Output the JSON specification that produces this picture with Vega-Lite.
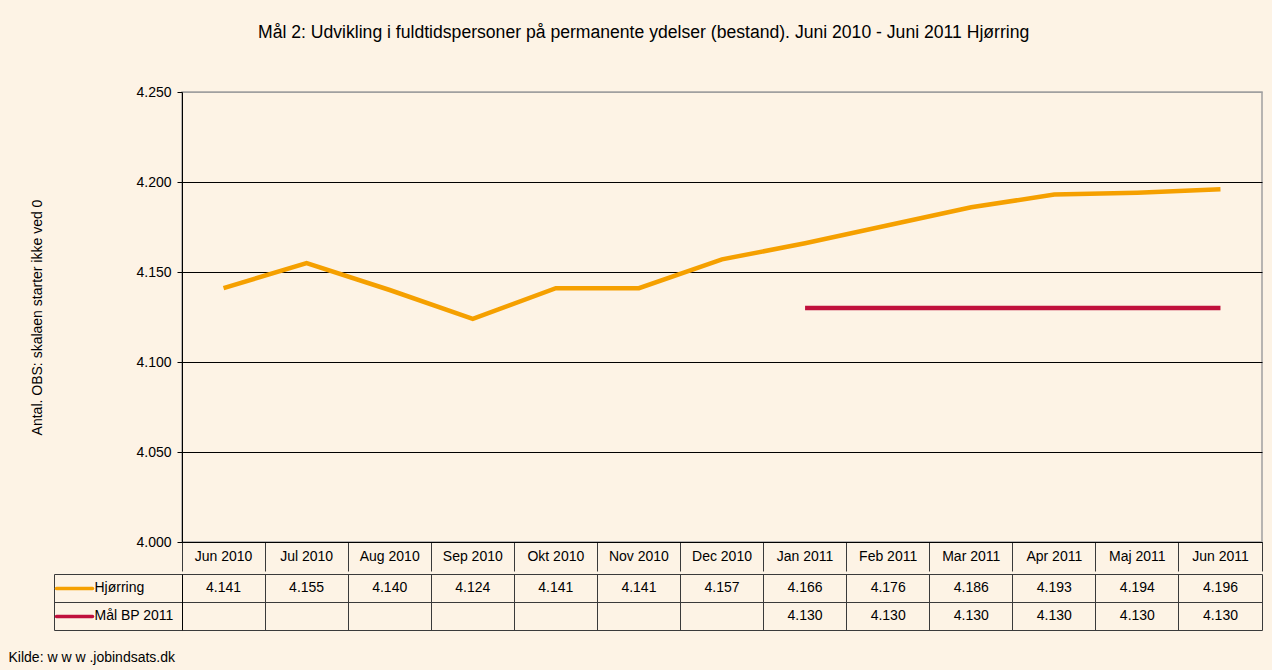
{
  "$schema": "https://vega.github.io/schema/vega-lite/v6.json",
  "background": "#FDF3E5",
  "padding": {"left": 8, "top": 23, "right": 8, "bottom": 6},
  "config": {
    "font": "Liberation Sans",
    "locale": {"number": {"decimal": ",", "thousands": ".", "grouping": [3], "currency": ["", " kr."]}},
    "view": {"stroke": null}
  },
  "title": {
    "text": "Mål 2: Udvikling i fuldtidspersoner på permanente ydelser (bestand). Juni 2010 - Juni 2011 Hjørring",
    "fontSize": 17.6,
    "fontWeight": "normal",
    "color": "#000000",
    "anchor": "middle",
    "dx": 8,
    "offset": 43
  },
  "datasets": {
    "tal": [
      {"maaned": "Jun 2010", "serie": "Hjørring", "antal": 4141},
      {"maaned": "Jul 2010", "serie": "Hjørring", "antal": 4155},
      {"maaned": "Aug 2010", "serie": "Hjørring", "antal": 4140},
      {"maaned": "Sep 2010", "serie": "Hjørring", "antal": 4124},
      {"maaned": "Okt 2010", "serie": "Hjørring", "antal": 4141},
      {"maaned": "Nov 2010", "serie": "Hjørring", "antal": 4141},
      {"maaned": "Dec 2010", "serie": "Hjørring", "antal": 4157},
      {"maaned": "Jan 2011", "serie": "Hjørring", "antal": 4166},
      {"maaned": "Feb 2011", "serie": "Hjørring", "antal": 4176},
      {"maaned": "Mar 2011", "serie": "Hjørring", "antal": 4186},
      {"maaned": "Apr 2011", "serie": "Hjørring", "antal": 4193},
      {"maaned": "Maj 2011", "serie": "Hjørring", "antal": 4194},
      {"maaned": "Jun 2011", "serie": "Hjørring", "antal": 4196},
      {"maaned": "Jan 2011", "serie": "Mål BP 2011", "antal": 4130},
      {"maaned": "Feb 2011", "serie": "Mål BP 2011", "antal": 4130},
      {"maaned": "Mar 2011", "serie": "Mål BP 2011", "antal": 4130},
      {"maaned": "Apr 2011", "serie": "Mål BP 2011", "antal": 4130},
      {"maaned": "Maj 2011", "serie": "Mål BP 2011", "antal": 4130},
      {"maaned": "Jun 2011", "serie": "Mål BP 2011", "antal": 4130}
    ]
  },
  "spacing": 0,
  "vconcat": [
    {
      "width": 1080,
      "height": 450,
      "data": {"name": "tal"},
      "view": {"stroke": "#A0A0A0", "strokeWidth": 1.5},
      "mark": {"type": "line", "strokeWidth": 4.5},
      "encoding": {
        "x": {
          "field": "maaned", "type": "nominal",
          "sort": ["Jun 2010", "Jul 2010", "Aug 2010", "Sep 2010", "Okt 2010", "Nov 2010", "Dec 2010", "Jan 2011", "Feb 2011", "Mar 2011", "Apr 2011", "Maj 2011", "Jun 2011"],
          "scale": {"type": "band", "paddingInner": 0, "paddingOuter": 0},
          "axis": {
            "orient": "bottom", "title": null, "grid": false,
            "bandPosition": 1, "tickExtra": true,
            "tickSize": 29, "tickColor": "#3A3A3A", "tickWidth": 1,
            "domainColor": "#000000", "domainWidth": 1,
            "labelAngle": 0, "labelBaseline": "middle", "labelPadding": -14.5,
            "labelFontSize": 14, "labelColor": "#000000"
          }
        },
        "y": {
          "field": "antal", "type": "quantitative",
          "scale": {"domain": [4000, 4250], "zero": false, "nice": false},
          "axis": {
            "title": "Antal. OBS: skalaen starter ikke ved 0",
            "titleFontSize": 14, "titleFontWeight": "normal", "titleColor": "#000000", "titlePadding": 91,
            "values": [4000, 4050, 4100, 4150, 4200, 4250],
            "format": ",d",
            "tickSize": 5, "tickColor": "#000000",
            "domainColor": "#000000",
            "labelColor": "#000000", "labelFontSize": 14, "labelPadding": 6,
            "grid": true,
            "gridColor": {"condition": {"test": "datum.value >= 4250", "value": "#A0A0A0"}, "value": "#000000"},
            "gridOpacity": 1
          }
        },
        "color": {
          "field": "serie", "type": "nominal",
          "scale": {"domain": ["Hjørring", "Mål BP 2011"], "range": ["#F5A000", "#C0103C"]},
          "legend": null
        }
      }
    },
    {
      "width": 1080,
      "height": 56,
      "data": {"name": "tal"},
      "layer": [
        {
          "mark": {"type": "text", "fontSize": 14, "color": "#000000"},
          "encoding": {
            "x": {
              "field": "maaned", "type": "nominal",
              "sort": ["Jun 2010", "Jul 2010", "Aug 2010", "Sep 2010", "Okt 2010", "Nov 2010", "Dec 2010", "Jan 2011", "Feb 2011", "Mar 2011", "Apr 2011", "Maj 2011", "Jun 2011"],
              "scale": {"type": "band", "paddingInner": 0, "paddingOuter": 0},
              "axis": {
                "orient": "bottom",
                "bandPosition": 1, "tickExtra": true,
                "grid": true, "gridColor": "#3A3A3A", "gridOpacity": 1,
                "ticks": false, "labels": false, "domain": false,
                "title": "Kilde: w w w .jobindsats.dk",
                "titleFontSize": 14, "titleFontWeight": "normal", "titleColor": "#000000",
                "titleAnchor": "start", "titleAlign": "left", "titleBaseline": "middle",
                "titleX": -174, "titleY": 27
              }
            },
            "y": {
              "field": "serie", "type": "nominal",
              "scale": {"type": "band", "domain": ["Hjørring", "Mål BP 2011"], "paddingInner": 0, "paddingOuter": 0},
              "axis": {
                "orient": "left", "title": null,
                "bandPosition": 1, "tickExtra": true,
                "tickSize": 128, "tickColor": "#3A3A3A",
                "labels": false,
                "domainColor": "#000000",
                "grid": true, "gridColor": "#3A3A3A", "gridOpacity": 1
              }
            },
            "text": {"field": "antal", "type": "quantitative", "format": ",d"}
          }
        },
        {
          "mark": {"type": "text", "opacity": 0},
          "encoding": {
            "y": {
              "field": "serie", "type": "nominal",
              "scale": {"type": "band", "domain": ["Hjørring", "Mål BP 2011"], "paddingInner": 0, "paddingOuter": 0},
              "axis": {
                "orient": "left", "title": null, "offset": 128,
                "ticks": false, "labels": false, "grid": false,
                "domainColor": "#3A3A3A"
              }
            },
            "text": {"value": ""}
          }
        },
        {
          "mark": {"type": "text", "opacity": 0},
          "encoding": {
            "y": {
              "field": "serie", "type": "nominal",
              "scale": {"type": "band", "domain": ["Hjørring", "Mål BP 2011"], "paddingInner": 0, "paddingOuter": 0},
              "axis": {
                "orient": "left", "title": null, "offset": 90,
                "domain": false, "grid": false,
                "tickSize": 36, "tickWidth": 3.5, "tickCap": "round",
                "tickColor": {"condition": {"test": "datum.value === 'Hjørring'", "value": "#F5A000"}, "value": "#C0103C"},
                "labelAlign": "left", "labelPadding": -38,
                "labelFontSize": 14, "labelColor": "#000000"
              }
            },
            "text": {"value": ""}
          }
        }
      ],
      "resolve": {"scale": {"y": "independent"}, "axis": {"y": "independent"}}
    }
  ]
}
